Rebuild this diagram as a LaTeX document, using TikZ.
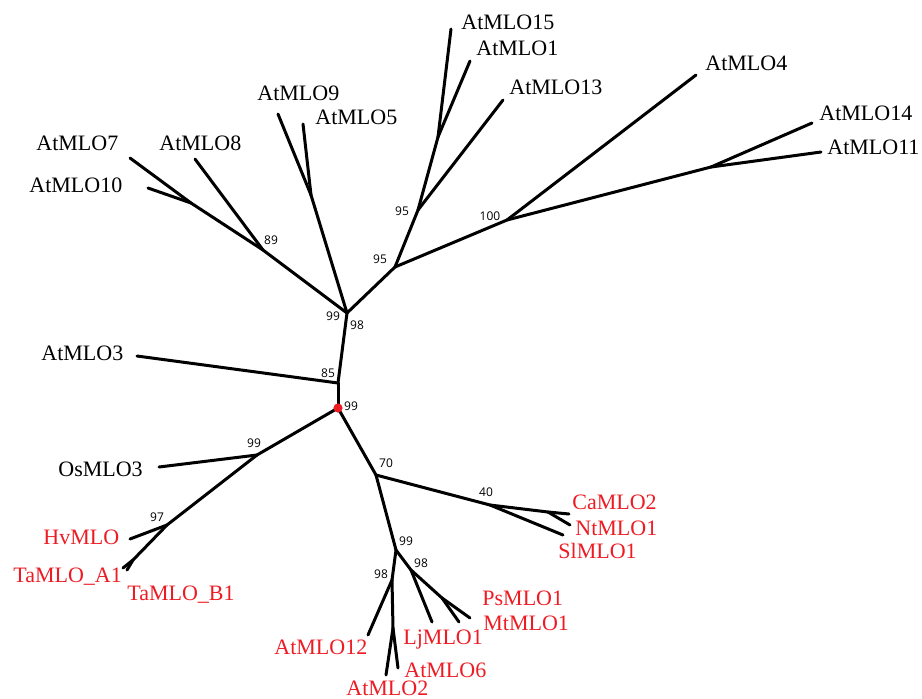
\documentclass[tikz,border=0pt]{standalone}
\usepackage{fontspec}
\setmainfont{Liberation Serif}
\newfontfamily\bootfont{Open Sans}
\definecolor{mlored}{RGB}{237,28,36}
\tikzset{
  edge/.style={line width=1.5pt, line cap=round, line join=round},
  leaf/.style={anchor=west, inner sep=0pt, text depth=0pt, font=\fontsize{11}{11}\selectfont},
  redleaf/.style={leaf, text=mlored},
  boot/.style={inner sep=0pt, font=\bootfont\fontsize{6}{6}\selectfont},
  rootdot/.style={circle, fill=mlored, inner sep=0pt, minimum size=4.6pt},
}
\newcommand{\branch}[2]{\draw[edge] (#1) -- (#2);}

\begin{document}
\begin{tikzpicture}[x=0.5pt,y=-0.5pt]
\useasboundingbox (0,0) rectangle (922,698);
% inner nodes
\coordinate (root) at (338,408);
\coordinate (n85) at (338,383);
\coordinate (n98) at (347,313);
\coordinate (n89) at (263,250);
\coordinate (j7) at (191,203);
\coordinate (j9) at (311,195);
\coordinate (n95a) at (395,267);
\coordinate (n95b) at (418,210);
\coordinate (j15) at (438,137);
\coordinate (n100) at (507,220);
\coordinate (j14) at (711,167);
\coordinate (n99o) at (257,455);
\coordinate (n97) at (167,525);
\coordinate (jta) at (133,560);
\coordinate (n70) at (376,475);
\coordinate (n40) at (490,505);
\coordinate (jca) at (548,512);
\coordinate (n99l) at (396,550);
\coordinate (n98r) at (411,570);
\coordinate (jps) at (442,598);
\coordinate (n98l) at (392,580);
\coordinate (j2) at (393,628);
% tips
\coordinate (t3) at (137,356);
\coordinate (t7) at (130,158);
\coordinate (t10) at (148,188);
\coordinate (t8) at (195,159);
\coordinate (t9) at (278,114);
\coordinate (t5) at (303,124);
\coordinate (t15) at (451,29);
\coordinate (t1) at (470,61);
\coordinate (t13) at (503,100);
\coordinate (t4) at (696,75);
\coordinate (t14) at (812,123);
\coordinate (t11) at (821,152);
\coordinate (tos) at (159,467);
\coordinate (thv) at (130,539);
\coordinate (ta) at (123,568);
\coordinate (tb) at (127,570);
\coordinate (tca) at (569,514);
\coordinate (tnt) at (570,525);
\coordinate (tsl) at (563,535);
\coordinate (tlj) at (432,622);
\coordinate (tps) at (470,618);
\coordinate (tmt) at (459,622);
\coordinate (t12) at (368,635);
\coordinate (t2) at (386,675);
\coordinate (t6) at (398,668);

\foreach \a/\b in {root/n85, n85/t3, n85/n98, n98/n89, n89/j7, j7/t7, j7/t10, n89/t8,
  n98/j9, j9/t9, j9/t5, n98/n95a, n95a/n95b, n95b/j15, j15/t15, j15/t1, n95b/t13,
  n95a/n100, n100/t4, n100/j14, j14/t14, j14/t11,
  root/n99o, n99o/tos, n99o/n97, n97/thv, n97/jta, jta/ta, jta/tb,
  root/n70, n70/n40, n40/jca, jca/tca, jca/tnt, n40/tsl, n70/n99l, n99l/n98r,
  n98r/tlj, n98r/jps, jps/tps, jps/tmt, n99l/n98l, n98l/t12, n98l/j2, j2/t2, j2/t6}
  {\branch{\a}{\b}}

\node[rootdot] (rdot) at (root) {};

% leaf names
\node[leaf] (l15) at (461,22) {AtMLO15};
\node[leaf] (l1) at (476,48) {AtMLO1};
\node[leaf] (l13) at (509,87) {AtMLO13};
\node[leaf] (l4) at (705,63) {AtMLO4};
\node[leaf] (l14) at (819,113) {AtMLO14};
\node[leaf] (l11) at (827,147) {AtMLO11};
\node[leaf] (l9) at (257,93) {AtMLO9};
\node[leaf] (l5) at (315,117) {AtMLO5};
\node[leaf] (l7) at (36,143) {AtMLO7};
\node[leaf] (l8) at (159,143) {AtMLO8};
\node[leaf] (l10) at (29,185) {AtMLO10};
\node[leaf] (l3) at (41,353) {AtMLO3};
\node[leaf] (los) at (58,469) {OsMLO3};
\node[redleaf] (lhv) at (43,537) {HvMLO};
\node[redleaf] (lta) at (13,575) {TaMLO\_A1};
\node[redleaf] (ltb) at (127,593) {TaMLO\_B1};
\node[redleaf] (lca) at (572,502) {CaMLO2};
\node[redleaf] (lnt) at (575,528) {NtMLO1};
\node[redleaf] (lsl) at (558,551) {SlMLO1};
\node[redleaf] (lps) at (482,598) {PsMLO1};
\node[redleaf] (lmt) at (483,623) {MtMLO1};
\node[redleaf] (llj) at (403,637) {LjMLO1};
\node[redleaf] (l12) at (274,647) {AtMLO12};
\node[redleaf] (l6) at (404,670) {AtMLO6};
\node[redleaf] (l2) at (346,688) {AtMLO2};

% bootstrap values
\node[boot] (b89) at (271,240) {89};
\node[boot] (b99u) at (333,316) {99};
\node[boot] (b98u) at (357,325) {98};
\node[boot] (b95a) at (380,259) {95};
\node[boot] (b95b) at (402,211) {95};
\node[boot] (b100) at (490,216) {100};
\node[boot] (b85) at (328,373) {85};
\node[boot] (b99r) at (351,406) {99};
\node[boot] (b99o) at (254,443) {99};
\node[boot] (b97) at (157,517) {97};
\node[boot] (b70) at (386,463) {70};
\node[boot] (b40) at (486,492) {40};
\node[boot] (b99l) at (406,541) {99};
\node[boot] (b98r) at (421,563) {98};
\node[boot] (b98l) at (381,574) {98};
\end{tikzpicture}
\end{document}
